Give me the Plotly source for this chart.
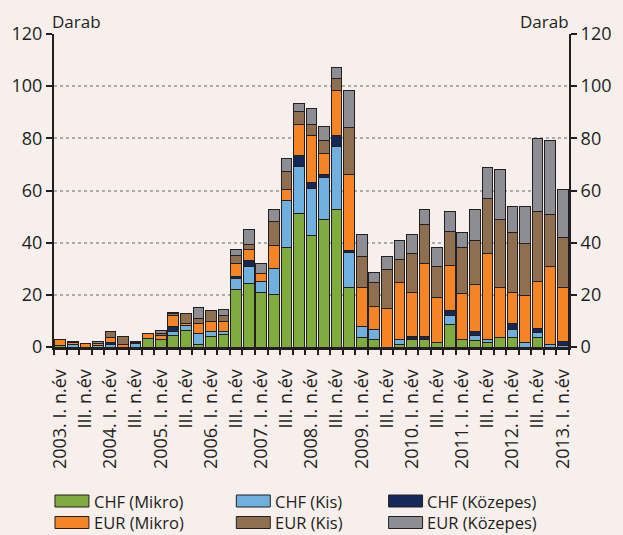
import plotly.graph_objects as go

# ---- data -------------------------------------------------------------
years = list(range(2003, 2014))
quarter_names = ["I.", "II.", "III.", "IV."]
categories = [f"{y}. {q}" for y in years for q in quarter_names][:41]
tick_labels = []
for c in categories:
    y, q = c.split(" ")
    if q == "I.":
        tick_labels.append(f"{y} I. n.év")
    elif q == "III.":
        tick_labels.append("III. n.év")
    else:
        tick_labels.append("")

chf_mikro = [0.7, 0, 0, 0, 0, 0, 0, 3.2, 2.9, 4.6, 6.2, 1.0, 4.0, 4.7, 21.9, 24.2, 21.0, 20.0, 38.0, 51.0,
             42.9, 49.0, 52.8, 22.7, 3.8, 2.8, 0, 1.0, 2.7, 2.7, 1.9, 8.7, 2.9, 2.5, 1.7, 3.8, 3.8, 0, 3.8, 0, 0]
chf_kis = [0, 0.8, 0, 0.5, 1.0, 0, 1.2, 0, 0, 1.3, 1.9, 4.0, 2.0, 1.4, 4.2, 6.8, 4.1, 10.2, 18.1, 18.1,
           18.0, 16.0, 24.0, 13.4, 4.0, 4.0, 0, 1.9, 0, 0, 0, 3.2, 0, 2.0, 1.3, 0, 2.9, 1.7, 1.9, 1.0, 0.4]
chf_kozepes = [0, 0, 0, 0, 0.9, 0, 0, 0, 0, 1.9, 0, 0, 0, 0, 0.9, 2.2, 0, 0, 0, 4.2,
               2.2, 1.3, 4.4, 1.0, 0, 0, 0, 0, 1.2, 1.3, 0, 2.2, 0, 1.3, 0, 0, 2.2, 0, 1.4, 0, 1.8]
eur_mikro = [2.1, 0.8, 1.2, 0.9, 1.6, 1.0, 0, 1.9, 1.5, 4.4, 0.9, 4.0, 3.9, 3.8, 5.1, 4.1, 2.9, 8.7, 4.1, 12.0,
             17.9, 7.9, 17.0, 29.2, 15.0, 8.9, 14.8, 22.0, 17.0, 28.0, 17.0, 17.0, 17.5, 18.0, 33.0, 19.0, 12.0, 18.2, 18.0, 29.8, 20.8]
eur_kis = [0, 0, 0, 0, 2.5, 3.0, 0.5, 0, 0.9, 0.6, 4.0, 1.9, 4.2, 2.2, 2.8, 1.9, 0, 9.3, 7.0, 5.0,
           4.3, 4.9, 4.9, 17.9, 11.9, 9.2, 15.0, 8.7, 15.1, 14.8, 12.1, 13.0, 17.8, 17.0, 20.9, 26.1, 22.9, 19.6, 26.9, 20.0, 19.1]
eur_kozepes = [0, 0.4, 0, 0.6, 0, 0, 0.3, 0, 0.9, 0.4, 0, 4.3, 0, 2.1, 2.3, 6.0, 4.1, 4.7, 5.2, 2.9,
               6.0, 5.4, 4.1, 14.1, 8.6, 3.8, 4.9, 7.3, 7.3, 6.0, 7.0, 7.8, 5.7, 12.0, 12.1, 19.1, 10.2, 14.4, 28.0, 28.2, 18.1]

series_names = ["CHF (Mikro)", "CHF (Kis)", "CHF (Közepes)", "EUR (Mikro)", "EUR (Kis)", "EUR (Közepes)"]
series_values = [chf_mikro, chf_kis, chf_kozepes, eur_mikro, eur_kis, eur_kozepes]
series_colors = ["#80AB3E", "#70B0DE", "#14295A", "#F58424", "#8E7050", "#8D8E93"]

y_ticks = [0, 20, 40, 60, 80, 100, 120]

# ---- style ------------------------------------------------------------
BG = "#F6EFEC"
DARK = "#231F20"
FONT = "Open Sans"
W, H = 623, 535
ML, MR, MT, MB = 50, 42, 34, 188
PW, PH = W - ML - MR, H - MT - MB


def px_x(px):
    return (px - ML) / PW


def px_y(py):
    return (H - MB - py) / PH


fig = go.Figure()
for name, vals, col in zip(series_names, series_values, series_colors):
    fig.add_trace(go.Bar(
        x=categories,
        y=[v if v else None for v in vals],
        name=name,
        marker=dict(color=col, line=dict(color=DARK, width=1)),
        showlegend=False,
    ))

# invisible trace to activate right axis
fig.add_trace(go.Scatter(x=[categories[0]], y=[None], yaxis="y2", mode="none",
                         showlegend=False, hoverinfo="skip"))

axis_common = dict(
    range=[0, 120], tickmode="array", tickvals=y_ticks, ticks="outside", ticklen=6, tickwidth=2,
    tickcolor=DARK, showline=True, linewidth=2, linecolor=DARK, zeroline=False,
    tickfont=dict(family=FONT, size=18, color=DARK), fixedrange=True,
)

fig.update_layout(
    width=W, height=H,
    margin=dict(l=ML, r=MR, t=MT, b=MB, pad=0),
    paper_bgcolor=BG, plot_bgcolor=BG,
    barmode="stack", bargap=0.15,
    showlegend=False,
    font=dict(family=FONT, size=18, color=DARK),
    xaxis=dict(
        type="category", categoryorder="array", categoryarray=categories,
        range=[-0.5, len(categories) - 0.5],
        tickmode="array", tickvals=categories, ticktext=tick_labels, tickangle=-90,
        ticks="outside", tickson="boundaries", ticklen=5, tickwidth=2, tickcolor=DARK,
        ticklabelstandoff=12,
        showline=True, linewidth=3, linecolor=DARK, showgrid=False,
        tickfont=dict(family=FONT, size=18, color=DARK), fixedrange=True,
    ),
    yaxis=dict(showgrid=True, gridcolor="#ABABAB", griddash="dot", gridwidth=1.5, side="left", **axis_common),
    yaxis2=dict(overlaying="y", side="right", showgrid=False, **axis_common),
)

# unit labels
fig.add_annotation(text="Darab", xref="paper", yref="paper", x=px_x(47), y=px_y(21),
                   xanchor="left", yanchor="middle", showarrow=False, borderpad=0,
                   font=dict(size=17, color=DARK))
fig.add_annotation(text="Darab", xref="paper", yref="paper", x=px_x(582), y=px_y(21),
                   xanchor="right", yanchor="middle", showarrow=False, borderpad=0,
                   font=dict(size=17, color=DARK))

# legend (manual, to reproduce swatch shapes and spacing)
legend_cols = [51, 238, 395]
legend_rows = [501, 522.5]
for i, (name, col) in enumerate(zip(series_names, series_colors)):
    cx = legend_cols[i % 3]
    cy = legend_rows[i // 3]
    fig.add_shape(type="rect", xref="paper", yref="paper",
                  x0=px_x(cx), x1=px_x(cx + 35), y0=px_y(cy - 6), y1=px_y(cy + 6),
                  fillcolor=col, line=dict(color=DARK, width=1))
    fig.add_annotation(text=name, xref="paper", yref="paper", x=px_x(cx + 39), y=px_y(cy),
                       xanchor="left", yanchor="middle", showarrow=False, borderpad=0,
                       font=dict(size=16.5, color=DARK))

fig.write_html("out.html", config={"displayModeBar": False},
               post_script="document.body.style.margin='0px';document.body.style.overflow='hidden';")
